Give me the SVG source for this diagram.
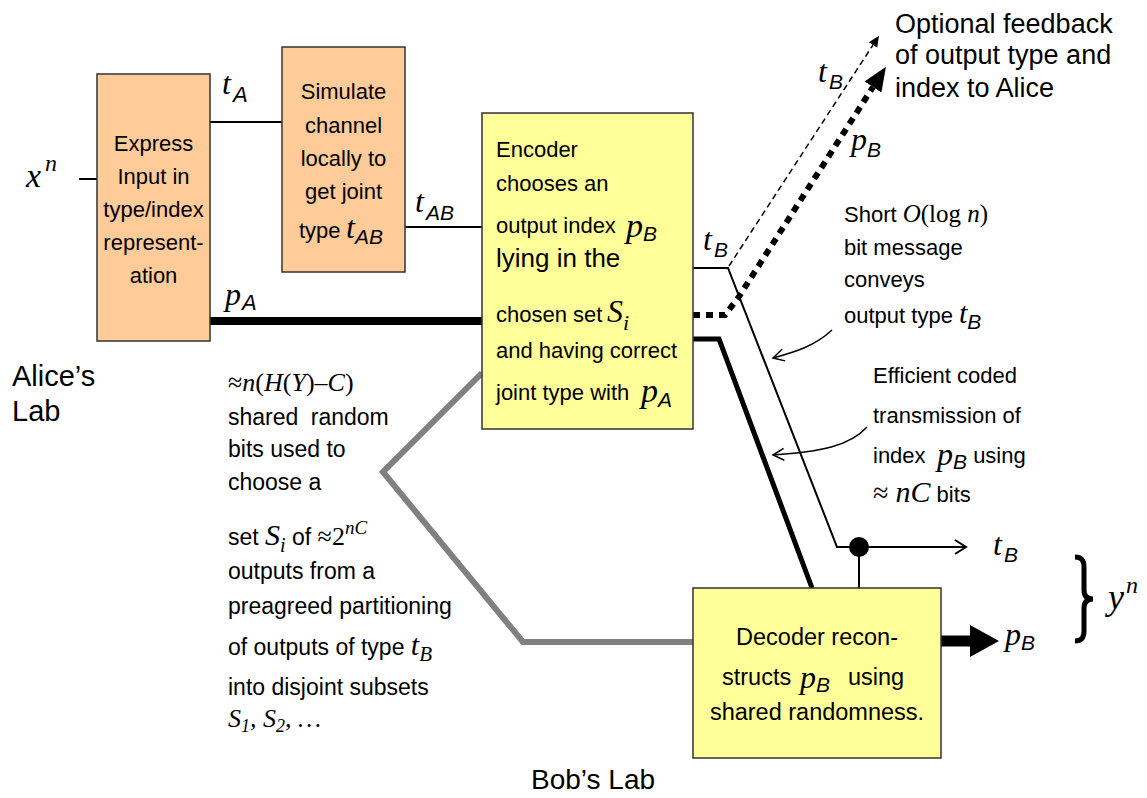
<svg xmlns="http://www.w3.org/2000/svg" width="1147" height="798" viewBox="0 0 1147 798">
<style>
.box{stroke:#333;stroke-width:1.5}
.orange{fill:#FFCC99}
.yellow{fill:#FFFF99}
.t{font-family:"Liberation Sans",Arial,sans-serif;fill:#000}
.m{font-family:"Liberation Serif","Times New Roman",serif;font-style:italic}
.r{font-family:"Liberation Serif","Times New Roman",serif;font-style:normal}
.s{font-family:"Liberation Sans",Arial,sans-serif;font-style:italic}
.ln{fill:none;stroke:#000}
</style>
<defs>
<marker id="tri" markerUnits="userSpaceOnUse" markerWidth="30" markerHeight="30" refX="0" refY="10" orient="auto" viewBox="0 0 30 20"><path d="M0,0 L24,10 L0,20 z" fill="#000"/></marker>
<marker id="triS" markerUnits="userSpaceOnUse" markerWidth="14" markerHeight="12" refX="0" refY="5" orient="auto" viewBox="0 0 14 10"><path d="M0,0 L11,5 L0,10 z" fill="#000"/></marker>
<marker id="open" markerUnits="userSpaceOnUse" markerWidth="16" markerHeight="18" refX="12" refY="8" orient="auto" viewBox="0 0 16 16"><path d="M1,1 L12,8 L1,15" fill="none" stroke="#000" stroke-width="2"/></marker>
<marker id="openS" markerUnits="userSpaceOnUse" markerWidth="16" markerHeight="16" refX="12" refY="7" orient="auto" viewBox="0 0 16 14"><path d="M1,1 L12,7 L1,13" fill="none" stroke="#000" stroke-width="1.5"/></marker>
</defs>

<g id="connectors">
<line class="ln" x1="79" y1="179" x2="97" y2="179" stroke-width="2"/>
<line class="ln" x1="210" y1="122" x2="282" y2="122" stroke-width="2"/>
<line class="ln" x1="405" y1="227" x2="482" y2="227" stroke-width="2"/>
<line class="ln" x1="210" y1="321" x2="482" y2="321" stroke-width="8"/>
<polyline points="482,373 383,472 523,642 693,642" fill="none" stroke="#808080" stroke-width="6"/>
<polyline class="ln" points="693,268 728,268 837,547 966,547" stroke-width="2" marker-end="url(#open)"/>
<polyline class="ln" points="693,339 719,339 812,588" stroke-width="5"/>
<line class="ln" x1="729" y1="266" x2="873" y2="45" stroke-width="1.5" stroke-dasharray="6,4" marker-end="url(#triS)"/>
<polyline class="ln" points="693,315 725,315 738,298 873,87" stroke-width="6" stroke-dasharray="7,6" marker-end="url(#tri)"/>
<circle cx="859" cy="547" r="10" fill="#000"/>
<line class="ln" x1="859" y1="547" x2="859" y2="588" stroke-width="2"/>
<line class="ln" x1="941" y1="641" x2="972" y2="641" stroke-width="11"/>
<path d="M970,625 L999,641 L970,657 z" fill="#000"/>
<path class="ln" d="M832,330 C815,346 795,352 773,358" stroke-width="1.5" marker-end="url(#openS)"/>
<path class="ln" d="M867,427 C850,446 820,452 773,455" stroke-width="1.5" marker-end="url(#openS)"/>
<path class="ln" d="M1075,557 C1082,557 1084,561 1084,567 L1084,590 C1084,596 1087,599 1093,599 C1087,599 1084,602 1084,608 L1084,631 C1084,637 1082,641 1075,641" stroke-width="5"/>
</g>

<g id="express">
<rect class="box orange" x="97" y="74" width="113" height="267"/>
<text class="t" font-size="22" text-anchor="middle"><tspan x="153.5" y="151">Express</tspan><tspan x="153.5" y="184">Input in</tspan><tspan x="153.5" y="217">type/index</tspan><tspan x="153.5" y="250">represent-</tspan><tspan x="153.5" y="283">ation</tspan></text>
</g>

<g id="simulate">
<rect class="box orange" x="282" y="47" width="123" height="225"/>
<text class="t" font-size="22" text-anchor="middle"><tspan x="343.5" y="99">Simulate</tspan><tspan x="343.5" y="133">channel</tspan><tspan x="343.5" y="166">locally to</tspan><tspan x="343.5" y="199">get joint</tspan></text>
<text class="t" font-size="22" x="299" y="238">type <tspan class="m" x="346" font-size="32">t</tspan><tspan class="s" font-size="21" dy="6">AB</tspan></text>
</g>

<g id="encoder">
<rect class="box yellow" x="482" y="113" width="211" height="316"/>
<text class="t" font-size="22" x="496" y="157">Encoder</text>
<text class="t" font-size="22" x="496" y="191">chooses an</text>
<text class="t" font-size="22" x="496" y="233">output index <tspan class="m" x="626" y="237" font-size="34">p</tspan><tspan class="s" font-size="21" y="241">B</tspan></text>
<text class="t" font-size="26" x="496" y="267">lying in the</text>
<text class="t" font-size="22" x="496" y="322">chosen set <tspan class="m" x="607" font-size="32">S</tspan><tspan class="m" font-size="22" y="330">i</tspan></text>
<text class="t" font-size="22" x="496" y="358">and having correct</text>
<text class="t" font-size="22" x="496" y="400">joint type with <tspan class="m" x="641" y="402" font-size="34">p</tspan><tspan class="s" font-size="21" y="407">A</tspan></text>
</g>

<g id="decoder">
<rect class="box yellow" x="693" y="588" width="248" height="170"/>
<text class="t" font-size="23.5" text-anchor="middle" x="817" y="645">Decoder recon-</text>
<text class="t" font-size="23.5" x="722" y="685">structs<tspan class="m" x="800" y="688" font-size="32">p</tspan><tspan class="s" font-size="21" y="692">B</tspan><tspan x="848" y="685">using</tspan></text>
<text class="t" font-size="23.5" text-anchor="middle" x="817" y="720">shared randomness.</text>
</g>

<g id="labels">
<text class="m" x="26" y="187" font-size="34">x</text><text class="m" x="45" y="171" font-size="24">n</text>
<text class="m" x="222" y="94" font-size="32">t</text><text class="s" x="233" y="102" font-size="22">A</text>
<text class="m" x="225" y="305" font-size="32">p</text><text class="s" x="242" y="310" font-size="22">A</text>
<text class="m" x="415" y="212" font-size="32">t</text><text class="s" x="426" y="220" font-size="21">AB</text>
<text class="m" x="703" y="250" font-size="32">t</text><text class="s" x="714" y="257" font-size="21">B</text>
<text class="m" x="818" y="82" font-size="32">t</text><text class="s" x="829" y="89" font-size="21">B</text>
<text class="m" x="851" y="150" font-size="32">p</text><text class="s" x="867" y="157" font-size="21">B</text>
<text class="m" x="993" y="555" font-size="32">t</text><text class="s" x="1004" y="562" font-size="21">B</text>
<text class="m" x="1005" y="645" font-size="32">p</text><text class="s" x="1021" y="650" font-size="21">B</text>
<text class="m" x="1108" y="609" font-size="36">y</text><text class="m" x="1126" y="593" font-size="24">n</text>
<text class="t" font-size="27"><tspan x="895" y="33">Optional feedback</tspan><tspan x="895" y="64">of output type and</tspan><tspan x="895" y="97">index to Alice</tspan></text>
<text class="t" font-size="22" x="844" y="222">Short <tspan class="m" font-size="25">O</tspan><tspan class="r" font-size="25">(log </tspan><tspan class="m" font-size="25">n</tspan><tspan class="r" font-size="25">)</tspan></text>
<text class="t" font-size="22" x="844" y="255">bit message</text>
<text class="t" font-size="22" x="844" y="287">conveys</text>
<text class="t" font-size="22" x="844" y="323">output type <tspan class="m" font-size="30">t</tspan><tspan class="s" font-size="21" dy="6">B</tspan></text>
<text class="t" font-size="22" x="873" y="383">Efficient coded</text>
<text class="t" font-size="22" x="873" y="423">transmission of</text>
<text class="t" font-size="22" x="873" y="463">index <tspan class="m" font-size="32" x="937" dy="2">p</tspan><tspan class="s" font-size="21" dy="4">B</tspan><tspan dy="-6"> using</tspan></text>
<text class="t" font-size="22" x="873" y="502"><tspan class="r" font-size="28">≈ </tspan><tspan class="m" font-size="30">nC</tspan> bits</text>
<text class="t" font-size="29"><tspan x="12" y="386">Alice’s</tspan><tspan x="12" y="421">Lab</tspan></text>
<text class="t" font-size="28" x="531" y="789">Bob’s Lab</text>
</g>

<g id="sharedtext">
<text class="t" font-size="23" x="228" y="391"><tspan class="r" font-size="26">≈</tspan><tspan class="m" font-size="26">n</tspan><tspan class="r" font-size="26">(</tspan><tspan class="m" font-size="26">H</tspan><tspan class="r" font-size="26">(</tspan><tspan class="m" font-size="26">Y</tspan><tspan class="r" font-size="26">)–</tspan><tspan class="m" font-size="26">C</tspan><tspan class="r" font-size="26">)</tspan></text>
<text class="t" font-size="23" x="228" y="425">shared <tspan dx="6">random</tspan></text>
<text class="t" font-size="23" x="228" y="457">bits used to</text>
<text class="t" font-size="23" x="228" y="490">choose a</text>
<text class="t" font-size="23" x="228" y="545">set <tspan class="m" font-size="30">S</tspan><tspan class="m" font-size="20" dy="7">i</tspan><tspan dy="-7"> of </tspan><tspan class="r" font-size="26">≈2</tspan><tspan class="m" font-size="19" dy="-11">nC</tspan></text>
<text class="t" font-size="23" x="228" y="579">outputs from a</text>
<text class="t" font-size="23" x="228" y="614">preagreed partitioning</text>
<text class="t" font-size="23" x="228" y="655">of outputs of type <tspan class="m" font-size="30">t</tspan><tspan class="m" font-size="21" dy="6">B</tspan></text>
<text class="t" font-size="23" x="228" y="695">into disjoint subsets</text>
<text class="m" font-size="26" x="228" y="727">S<tspan font-size="18" dy="5">1</tspan><tspan dy="-5">, S</tspan><tspan font-size="18" dy="5">2</tspan><tspan dy="-5">, …</tspan></text>
</g>
</svg>
